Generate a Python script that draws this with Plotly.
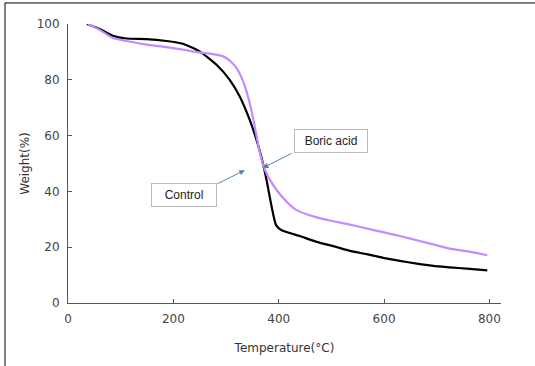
import plotly.graph_objects as go

ctrl_x = [36, 60, 85, 111, 149, 187, 218, 250, 282, 307, 326, 345, 358, 367, 377, 386.6, 395, 405.5, 440, 472, 503.5, 535, 567, 598, 630, 662, 693.5, 725, 757, 796]
ctrl_y = [100, 98.2, 95.8, 94.8, 94.6, 93.9, 92.9, 90.2, 85.4, 80, 74, 65.6, 58.4, 52.4, 44, 34.5, 27.9, 26.1, 24, 21.9, 20.4, 18.7, 17.5, 16.2, 15.1, 14.1, 13.3, 12.8, 12.3, 11.7]

boric_x = [38, 60, 85, 111, 149, 187, 218, 250, 275.5, 294.5, 307, 320, 332.5, 345, 354.6, 363, 370.5, 380, 396, 415, 434, 472, 503.5, 535, 567, 598, 630, 662, 693.5, 725, 757, 796]
boric_y = [100, 97.9, 95, 93.9, 92.6, 91.7, 90.8, 89.8, 89.2, 88.4, 86.9, 84.2, 79.4, 71.6, 63.2, 54.8, 49.4, 45.3, 40.5, 36.3, 33.3, 30.7, 29.3, 28.1, 26.7, 25.4, 24, 22.5, 21, 19.5, 18.6, 17.1]

x_ticks = [0, 200, 400, 600, 800]
y_ticks = [0, 20, 40, 60, 80, 100]

fig = go.Figure()
fig.add_trace(go.Scatter(x=ctrl_x, y=ctrl_y, mode="lines", line=dict(color="#000000", width=2.2, shape="spline", smoothing=0.5), name="Control"))
fig.add_trace(go.Scatter(x=boric_x, y=boric_y, mode="lines", line=dict(color="#C08CFF", width=2.2, shape="spline", smoothing=0.5), name="Boric acid"))

tickfont = dict(family="DejaVu Sans", size=12, color="#444444")
fig.update_layout(
    width=535, height=366,
    margin=dict(l=68, r=34, t=24, b=63),
    paper_bgcolor="white", plot_bgcolor="white",
    showlegend=False,
    xaxis=dict(range=[0, 822], tickvals=x_ticks, ticks="inside", ticklen=4, tickcolor="#555",
               showline=True, linecolor="#555", linewidth=1, showgrid=False, zeroline=False,
               tickfont=tickfont, ticklabelstandoff=5,
               title=dict(text="Temperature(°C)", font=dict(family="DejaVu Sans", size=12, color="#333"), standoff=18)),
    yaxis=dict(range=[0, 100], tickvals=y_ticks, ticks="inside", ticklen=4, tickcolor="#555",
               showline=True, linecolor="#555", linewidth=1, showgrid=False, zeroline=False,
               tickfont=tickfont, ticklabelstandoff=5,
               title=dict(text="Weight(%)", font=dict(family="DejaVu Sans", size=12, color="#333"), standoff=4)),
)

# outer frame
fig.add_shape(type="rect", xref="paper", yref="paper", x0=-63/433, x1=1.2, y0=-0.3, y1=1 + 21/278.4,
              line=dict(color="#000", width=1), fillcolor="rgba(0,0,0,0)", layer="below")

arrow_col = "#4F81BD"
# arrows
fig.add_annotation(x=370, y=48.4, ax=427, ay=53.9, axref="x", ayref="y", xref="x", yref="y",
                   text="", showarrow=True, arrowhead=2, arrowsize=1.1, arrowwidth=1, arrowcolor=arrow_col)
fig.add_annotation(x=335.7, y=47.6, ax=281, ay=42.5, axref="x", ayref="y", xref="x", yref="y",
                   text="", showarrow=True, arrowhead=2, arrowsize=1.1, arrowwidth=1, arrowcolor=arrow_col)
# label boxes
fig.add_annotation(x=(293.7 - 68.3) / 0.5263, y=(302.7 - 141.5) / 2.784, xref="x", yref="y",
                   text="Boric acid", showarrow=False, xanchor="left",
                   font=dict(family="Liberation Sans", size=12, color="#222"),
                   bordercolor="#BBBBBB", borderwidth=1, borderpad=4, bgcolor="white", width=64, height=14, align="center")
fig.add_annotation(x=(151.7 - 68.3) / 0.5263, y=(302.7 - 195.3) / 2.784, xref="x", yref="y",
                   text="Control", showarrow=False, xanchor="left",
                   font=dict(family="Liberation Sans", size=12, color="#222"),
                   bordercolor="#BBBBBB", borderwidth=1, borderpad=4, bgcolor="white", width=56, height=14, align="center")

fig.write_html("out.html")
